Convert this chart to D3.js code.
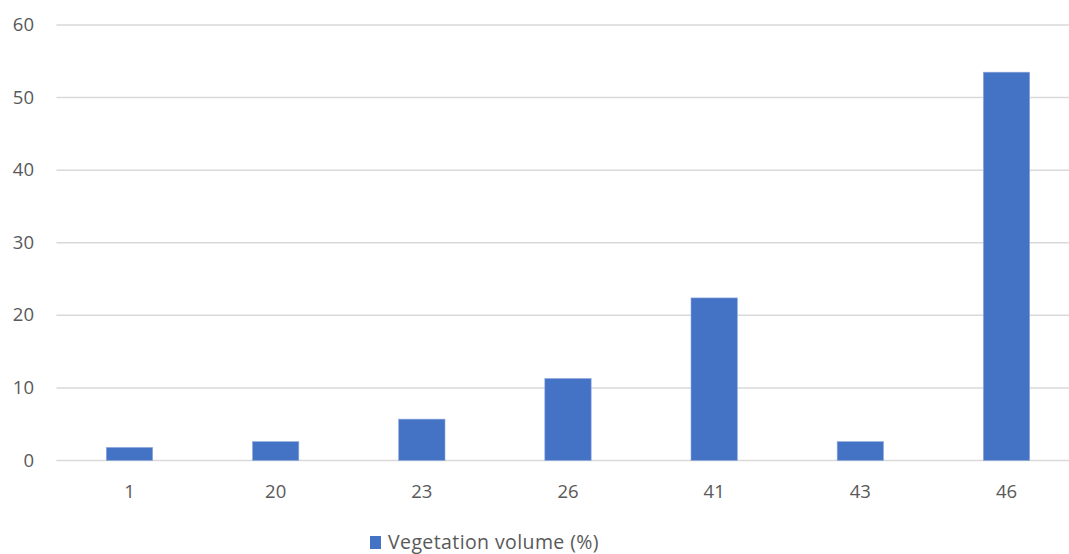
<!DOCTYPE html>
<html><head><meta charset="utf-8">
<script src="https://cdn.jsdelivr.net/npm/d3@7"></script>
<style>body{margin:0;background:#fff}svg{display:block}text{font-family:"Open Sans",sans-serif;fill:#595959}</style>
</head><body><svg id="c" width="1069" height="554"></svg>
<script>
const categories = ["1","20","23","26","41","43","46"];
const values = [1.8, 2.6, 5.7, 11.3, 22.4, 2.6, 53.5];
const yTicks = [0,10,20,30,40,50,60];
const seriesName = "Vegetation volume (%)";

const svg = d3.select("#c");
const x = d3.scaleBand().domain(categories).range([56.4, 1079.6]).paddingInner(0.683).paddingOuter(0.3415);
const y = d3.scaleLinear().domain([0,60]).range([460.5, 25]);

svg.append("g").selectAll("line").data(yTicks).join("line")
  .attr("x1",56.4).attr("x2",1079.6).attr("y1",d=>y(d)).attr("y2",d=>y(d))
  .attr("stroke","#d9d9d9").attr("stroke-width",1.5);

svg.append("g").selectAll("text").data(yTicks).join("text")
  .attr("x",34).attr("y",d=>y(d)-0.5).attr("dy","0.36em").attr("text-anchor","end")
  .attr("font-size",18.5).text(d=>d);

svg.append("g").selectAll("rect").data(values).join("rect")
  .attr("x",(d,i)=>x(categories[i])).attr("width",x.bandwidth())
  .attr("y",d=>y(d)).attr("height",d=>y(0)-y(d))
  .attr("fill","#4472C4").attr("stroke","#8faadc").attr("stroke-width",0.6);

svg.append("g").selectAll("text").data(categories).join("text")
  .attr("x",d=>x(d)+x.bandwidth()/2).attr("y",491).attr("dy","0.36em")
  .attr("text-anchor","middle").attr("font-size",18.5).text(d=>d);

const lg = svg.append("g");
lg.append("rect").attr("x",370).attr("y",536).attr("width",11).attr("height",13).attr("fill","#4472C4");
lg.append("text").attr("x",388).attr("y",548.5).attr("font-size",19.5).attr("letter-spacing",0.4).text(seriesName);
</script></body></html>
